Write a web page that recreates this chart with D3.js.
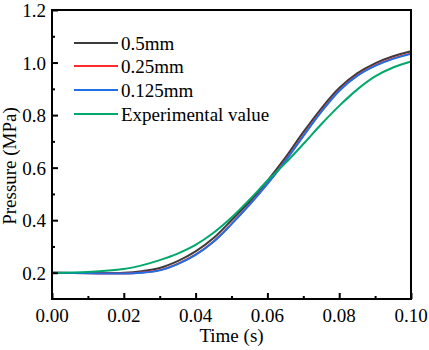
<!DOCTYPE html>
<html lang="en">
<head>
<meta charset="UTF-8">
<title>Pressure vs time</title>
<script src="https://d3js.org/d3.v7.min.js"></script>
<style>
  body { margin:0; background:#fff; }
  text { font-family:"Liberation Serif", "Times New Roman", serif; fill:#000; }
  .line { fill:none; stroke-width:2px; }
</style>
</head>
<body>
<script>
var times = [0, 0.01, 0.02, 0.025, 0.03, 0.035, 0.04, 0.045, 0.05, 0.055, 0.06, 0.065, 0.07, 0.075, 0.08, 0.085, 0.09, 0.095, 0.1];
var mesh05 = [0.200, 0.199, 0.200, 0.206, 0.218, 0.244, 0.281, 0.332, 0.400, 0.470, 0.550, 0.638, 0.735, 0.825, 0.903, 0.959, 0.997, 1.024, 1.043];
var mesh025 = [0.200, 0.198, 0.197, 0.201, 0.210, 0.234, 0.269, 0.319, 0.386, 0.459, 0.539, 0.627, 0.722, 0.814, 0.894, 0.951, 0.989, 1.016, 1.035];
var mesh0125 = [0.200, 0.198, 0.197, 0.200, 0.209, 0.233, 0.268, 0.318, 0.385, 0.458, 0.538, 0.625, 0.720, 0.812, 0.892, 0.949, 0.987, 1.014, 1.033];
var experiment = [0.200, 0.203, 0.214, 0.228, 0.248, 0.273, 0.306, 0.352, 0.410, 0.478, 0.550, 0.617, 0.690, 0.765, 0.835, 0.897, 0.947, 0.981, 1.004];

var seriesNames = ["0.5mm", "0.25mm", "0.125mm", "Experimental value"];
var seriesColors = ["#3c3c3c", "#ff2a2a", "#1f6fe6", "#00a86b"];
var seriesValues = [mesh05, mesh025, mesh0125, experiment];

var xTicks = [0, 0.02, 0.04, 0.06, 0.08, 0.1];
var yTicks = [0.2, 0.4, 0.6, 0.8, 1.0, 1.2];

var width = 429, height = 350;
var mLeft = 52, mRight = 411, mTop = 10, mBottom = 299;

var svg = d3.select("body").append("svg")
    .attr("width", width).attr("height", height);

var x = d3.scaleLinear().domain([0, 0.1]).range([mLeft, mRight]);
var y = d3.scaleLinear().domain([0.1, 1.2]).range([mBottom, mTop]);

// lines
var line = d3.line()
    .x(function(d){ return x(d[0]); })
    .y(function(d){ return y(d[1]); })
    .curve(d3.curveCatmullRom.alpha(0.5));

seriesValues.forEach(function(vals, i){
  var pts = times.map(function(t, j){ return [t, vals[j]]; });
  svg.append("path").attr("class","line")
     .attr("d", line(pts))
     .style("stroke", seriesColors[i]);
});

// axes (ticks inward)
var xMinor = [0.01, 0.03, 0.05, 0.07, 0.09];
var yMinor = [0.3, 0.5, 0.7, 0.9, 1.1];

var xAxis = svg.append("g").attr("transform","translate(0,"+mBottom+")")
    .call(d3.axisTop(x).tickValues(xTicks).tickSize(6).tickFormat(""));
var xAxisMinor = svg.append("g").attr("transform","translate(0,"+mBottom+")")
    .call(d3.axisTop(x).tickValues(xMinor).tickSize(3).tickFormat(""));
var yAxis = svg.append("g").attr("transform","translate("+mLeft+",0)")
    .call(d3.axisRight(y).tickValues(yTicks).tickSize(6).tickFormat(""));
var yAxisMinor = svg.append("g").attr("transform","translate("+mLeft+",0)")
    .call(d3.axisRight(y).tickValues(yMinor).tickSize(3).tickFormat(""));

[xAxis, xAxisMinor, yAxis, yAxisMinor].forEach(function(g){
  g.select(".domain").remove();
  g.selectAll("line").attr("stroke","#000").attr("stroke-width",2);
});

// frame
svg.append("rect")
   .attr("x", mLeft).attr("y", mTop)
   .attr("width", mRight-mLeft).attr("height", mBottom-mTop)
   .attr("fill","none").attr("stroke","#000").attr("stroke-width",2);

// tick labels
svg.selectAll(".xl").data(xTicks).enter().append("text")
   .attr("x", function(d){ return x(d); })
   .attr("y", 322)
   .attr("text-anchor","middle")
   .style("font-size","19px")
   .text(function(d){ return d3.format(".2f")(d); });

svg.selectAll(".yl").data(yTicks).enter().append("text")
   .attr("x", mLeft - 6)
   .attr("y", function(d){ return y(d) + 7; })
   .attr("text-anchor","end")
   .style("font-size","19px")
   .text(function(d){ return d3.format(".1f")(d); });

// axis titles
svg.append("text")
   .attr("x", (mLeft+mRight)/2).attr("y", 342)
   .attr("text-anchor","middle")
   .style("font-size","19px")
   .text("Time (s)");

svg.append("text")
   .attr("transform","translate(16,166) rotate(-90)")
   .attr("text-anchor","middle")
   .style("font-size","19px")
   .text("Pressure (MPa)");

// legend
var legendY = [43, 66, 90, 114];
seriesNames.forEach(function(name, i){
  svg.append("line")
     .attr("x1", 74).attr("x2", 118)
     .attr("y1", legendY[i]).attr("y2", legendY[i])
     .attr("stroke", seriesColors[i]).attr("stroke-width", 2);
  svg.append("text")
     .attr("x", 121).attr("y", legendY[i] + 7)
     .style("font-size","19px")
     .text(name);
});
</script>
</body>
</html>
